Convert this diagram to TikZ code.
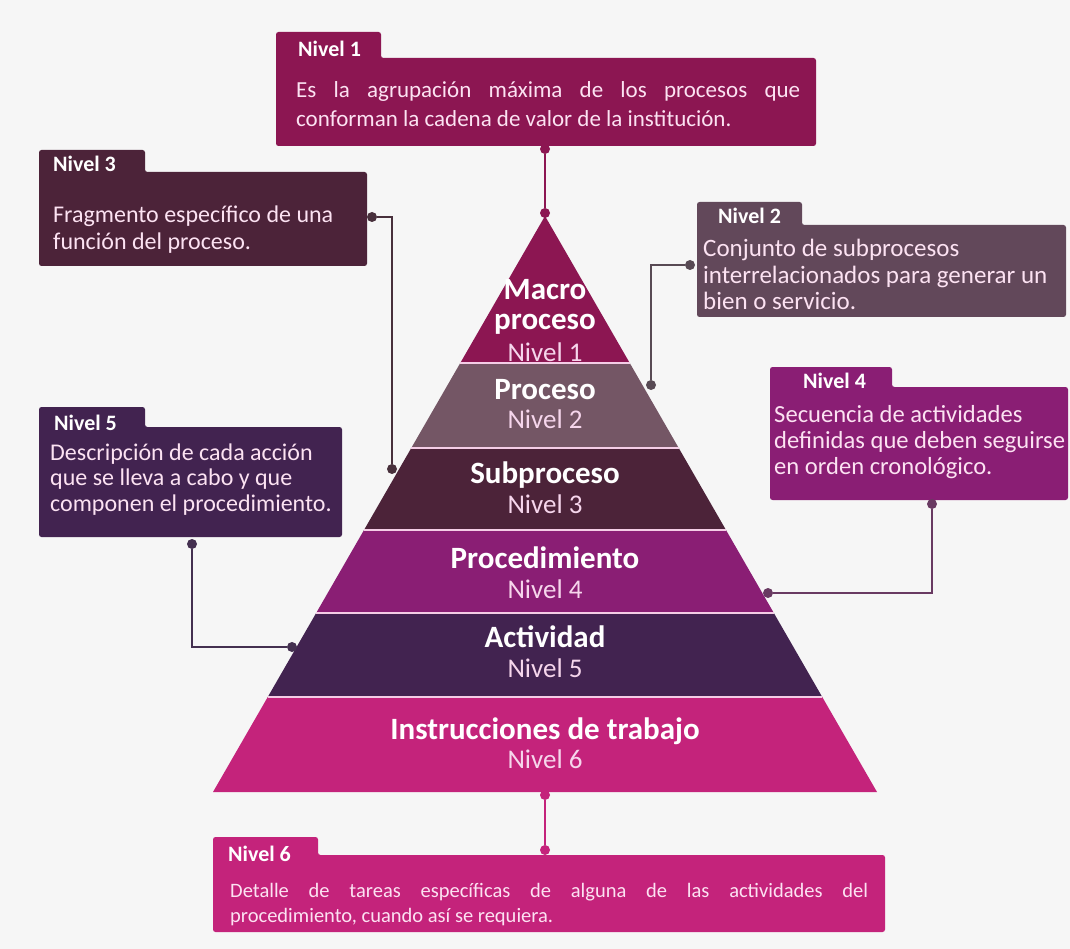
\documentclass[tikz,border=0pt]{standalone}
\usepackage{fontspec}
\setmainfont{Carlito}
\usetikzlibrary{calc}
\definecolor{bg}{RGB}{246,246,246}
\definecolor{cA}{RGB}{140,22,82}
\definecolor{cBbox}{RGB}{98,72,90}
\definecolor{cB}{RGB}{116,86,101}
\definecolor{cC}{RGB}{76,35,57}
\definecolor{cD}{RGB}{138,30,116}
\definecolor{cE}{RGB}{66,35,80}
\definecolor{cF}{RGB}{196,35,123}
\definecolor{txt}{RGB}{252,226,242}
\definecolor{lvltxt}{RGB}{246,214,236}
\definecolor{sep}{RGB}{244,205,230}
\definecolor{lnB}{RGB}{88,74,84}
\definecolor{lnC}{RGB}{72,48,60}
\definecolor{lnD}{RGB}{105,58,98}
\definecolor{lnE}{RGB}{68,48,80}
\newcommand\mypanel[7]{\fill[#1, rounded corners=2.5pt] (#2,#3) -- (#4,#3) -- (#4,#5) -- (#6,#5) -- (#6,#7) -- (#2,#7) -- cycle;}
\newcommand\mytier[3]{\fill[#1] ($(A)!#2!(BL)$) -- ($(A)!#2!(BR)$) -- ($(A)!#3!(BR)$) -- ($(A)!#3!(BL)$) -- cycle;}
\newcommand\mysep[1]{\draw[sep, line width=2.5pt] ($(A)!#1!(BL)$) -- ($(A)!#1!(BR)$);}
\tikzset{
  bodytxt/.style={font=\fontsize{#1}{#1}\selectfont, text=txt, inner sep=0pt, anchor=base west},
  ttl/.style={font=\bfseries\fontsize{22}{24}\selectfont, text=white, inner sep=0pt, anchor=base west},
  bigl/.style={font=\bfseries\fontsize{31}{33}\selectfont, text=white, inner sep=0pt, anchor=base},
  lvl/.style={font=\fontsize{27}{29}\selectfont, text=lvltxt, inner sep=0pt, anchor=base},
  dotn/.style={circle, fill=#1, minimum size=10pt, inner sep=0pt},
  conn/.style={draw=#1, line width=2pt},
}
\begin{document}
\begin{tikzpicture}[x=1pt,y=-1pt]
\fill[bg] (0,0) rectangle (1070,949);
\useasboundingbox (0,0) rectangle (1070,949);

% ---------- pyramid ----------
\coordinate (A) at (545,216);
\coordinate (BL) at (213,792);
\coordinate (BR) at (877,792);
\mytier{cA}{0}{0.2552}
\mytier{cB}{0.2552}{0.4028}
\mytier{cC}{0.4028}{0.5451}
\mytier{cD}{0.5451}{0.6892}
\mytier{cE}{0.6892}{0.8351}
\mytier{cF}{0.8351}{1}
\mysep{0.2552}
\mysep{0.4028}
\mysep{0.5451}
\mysep{0.6892}
\mysep{0.8351}

\node[bigl] (p1a) at (545,300) {Macro};
\node[bigl] (p1b) at (545,330) {proceso};
\node[lvl] (p1c) at (545,361) {Nivel 1};
\node[bigl] (p2a) at (545,399) {Proceso};
\node[lvl] (p2b) at (545,428) {Nivel 2};
\node[bigl] (p3a) at (545,483) {Subproceso};
\node[lvl] (p3b) at (545,513) {Nivel 3};
\node[bigl] (p4a) at (545,568) {Procedimiento};
\node[lvl] (p4b) at (545,598) {Nivel 4};
\node[bigl] (p5a) at (545,647) {Actividad};
\node[lvl] (p5b) at (545,677) {Nivel 5};
\node[bigl] (p6a) at (545,739) {Instrucciones de trabajo};
\node[lvl] (p6b) at (545,768) {Nivel 6};

% ---------- panels ----------
\mypanel{cA}{276}{32}{381}{58}{816}{146}
\mypanel{cC}{39}{150}{145}{172}{367}{266}
\mypanel{cBbox}{697}{202}{802}{225}{1066}{317}
\mypanel{cD}{770}{367}{892}{387}{1068}{500}
\mypanel{cE}{39}{407}{145}{427}{342}{537}
\mypanel{cF}{213}{837}{318}{855}{885}{932}

% Nivel 1
\node[ttl] (h1) at (298,57) {Nivel 1};
\node[bodytxt=23] (t1a) at (296,98) {\makebox[504pt][s]{Es la agrupación máxima de los procesos que}};
\node[bodytxt=23] (t1b) at (296,127) {conforman la cadena de valor de la institución.};
% Nivel 3
\node[ttl] (h3) at (53,172) {Nivel 3};
\node[bodytxt=24] (t3a) at (53,223) {Fragmento específico de una};
\node[bodytxt=24] (t3b) at (53,250) {función del proceso.};
% Nivel 2
\node[ttl] (h2) at (718,224) {Nivel 2};
\node[bodytxt=25] (t2a) at (703,257) {Conjunto de subprocesos};
\node[bodytxt=25] (t2b) at (703,284) {interrelacionados para generar un};
\node[bodytxt=25] (t2c) at (703,310) {bien o servicio.};
% Nivel 4
\node[ttl] (h4) at (803,388) {Nivel 4};
\node[bodytxt=24.6] (t4a) at (774,422) {Secuencia de actividades};
\node[bodytxt=24.6] (t4b) at (774,448) {definidas que deben seguirse};
\node[bodytxt=24.6] (t4c) at (774,474) {en orden cronológico.};
% Nivel 5
\node[ttl] (h5) at (54,430) {Nivel 5};
\node[bodytxt=24] (t5a) at (50,460) {Descripción de cada acción};
\node[bodytxt=24] (t5b) at (50,485) {que se lleva a cabo y que};
\node[bodytxt=24] (t5c) at (50,511) {componen el procedimiento.};
% Nivel 6
\node[ttl] (h6) at (228,861) {Nivel 6};
\node[bodytxt=20.5] (t6a) at (230,897) {\makebox[638pt][s]{Detalle de tareas específicas de alguna de las actividades del}};
\node[bodytxt=20.5] (t6b) at (230,922) {procedimiento, cuando así se requiera.};

% ---------- connectors ----------
\node[dotn=cA] (d1a) at (545,149) {};
\node[dotn=cA] (d1b) at (545,213) {};
\draw[conn=cA] (d1a) -- (d1b);

\node[dotn=lnC] (d3a) at (372,217) {};
\node[dotn=lnC] (d3b) at (392,469) {};
\draw[conn=lnC] (d3a) -| (d3b);

\node[dotn=lnB] (d2a) at (690,265) {};
\node[dotn=lnB] (d2b) at (651,385) {};
\draw[conn=lnB] (d2a) -| (d2b);

\node[dotn=lnD] (d4a) at (932,504) {};
\node[dotn=lnD] (d4b) at (768,593) {};
\draw[conn=lnD] (d4a) |- (d4b);

\node[dotn=lnE] (d5a) at (192,544) {};
\node[dotn=lnE] (d5b) at (292,647) {};
\draw[conn=lnE] (d5a) |- (d5b);

\node[dotn=cF] (d6a) at (545,795) {};
\node[dotn=cF] (d6b) at (545,850) {};
\draw[conn=cF] (d6a) -- (d6b);
\end{tikzpicture}
\end{document}
